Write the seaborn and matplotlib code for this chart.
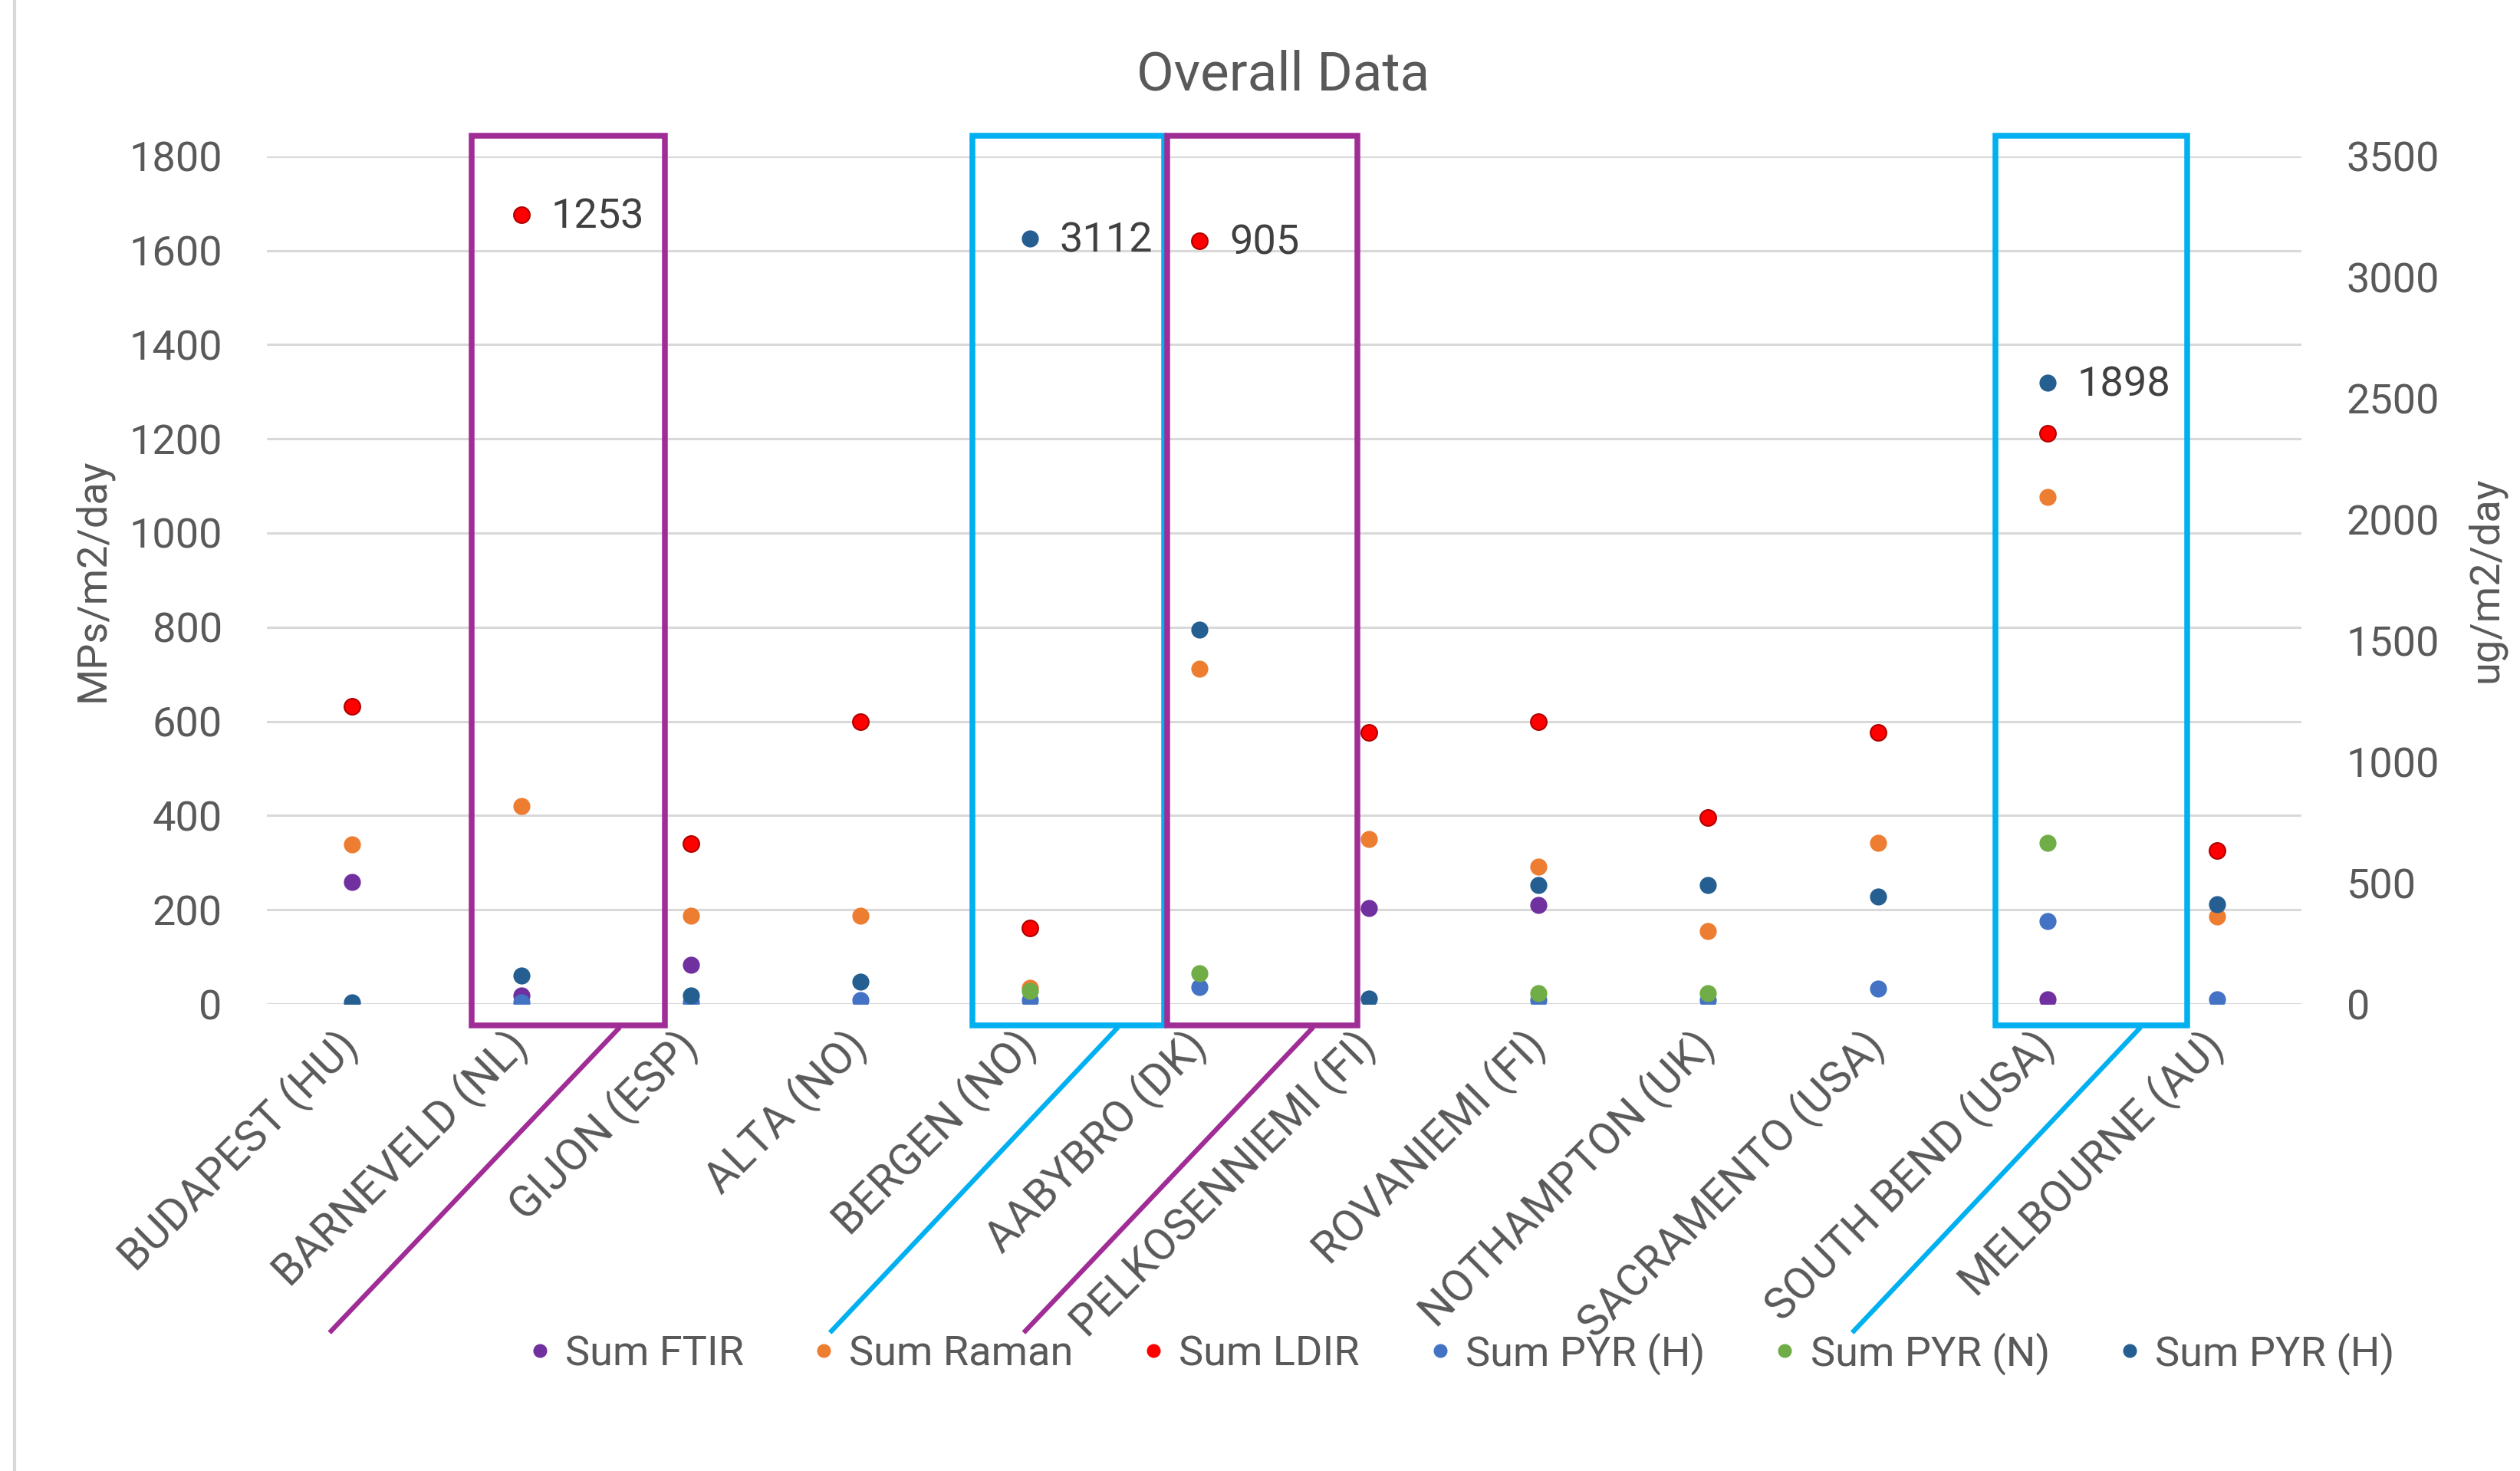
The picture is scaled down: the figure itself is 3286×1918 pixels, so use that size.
import numpy as np
import pandas as pd
import matplotlib.pyplot as plt
import seaborn as sns
from matplotlib.lines import Line2D
from matplotlib.patches import Rectangle

nan = np.nan

cities = ['BUDAPEST (HU)', 'BARNEVELD (NL)', 'GIJON (ESP)', 'ALTA (NO)', 'BERGEN (NO)',
          'AABYBRO (DK)', 'PELKOSENNIEMI (FI)', 'ROVANIEMI (FI)', 'NOTHAMPTON (UK)',
          'SACRAMENTO (USA)', 'SOUTH BEND (USA)', 'MELBOURNE (AU)']

# MPs/m2/day -> left axis
sum_ftir = [259, 18, 83, nan, nan, nan, 204, 210, nan, nan, 10, nan]
sum_raman = [338, 420, 187, 187, 35, 711, 350, 291, 155, 342, 1076, 186]
sum_ldir = [632, 1675, 340, 600, 162, 1620, 577, 600, 396, 577, 1212, 326]

# ug/m2/day -> right axis
sum_pyr_h = [nan, 7, 7, 16, 16, 70, nan, 16, 16, 63, 341, 19]
sum_pyr_n = [nan, nan, nan, nan, 53, 128, nan, 46, 46, nan, 666, nan]
sum_pyr_h2 = [7, 118, 36, 92, 3160, 1545, 21, 491, 491, 443, 2565, 412]

# real values written next to the off-scale points
label_cities = ['BARNEVELD (NL)', 'BERGEN (NO)', 'AABYBRO (DK)', 'SOUTH BEND (USA)']
label_series = ['Sum LDIR', 'Sum PYR (H) ', 'Sum LDIR', 'Sum PYR (H) ']
label_texts = ['1253', '3112', '905', '1898']

left_series = [('Sum FTIR', sum_ftir, '#7030A0'),
               ('Sum Raman', sum_raman, '#ED7D31'),
               ('Sum LDIR', sum_ldir, '#FF0000')]
right_series = [('Sum PYR (H)', sum_pyr_h, '#4472C4'),
                ('Sum PYR (N)', sum_pyr_n, '#70AD47'),
                ('Sum PYR (H) ', sum_pyr_h2, '#255E91')]

sns.set_theme(style='white')
plt.rcParams['font.family'] = ['Roboto', 'DejaVu Sans']
txt = '#595959'

fig = plt.figure(figsize=(32.87, 19.18), dpi=100)
ax = fig.add_axes([0.1059, 0.3175, 0.8072, 0.5763])
ax2 = ax.twinx()


def draw(axis, series):
    for name, vals, col in series:
        df = pd.DataFrame({'city': cities, 'value': vals}).dropna()
        ldir = name == 'Sum LDIR'
        sns.stripplot(data=df, x='city', y='value', order=cities, jitter=False,
                      color=col, size=15 if ldir else 16,
                      linewidth=1.5 if ldir else 0,
                      edgecolor='#B00000' if ldir else col, ax=axis, zorder=3)


draw(ax, left_series)
draw(ax2, right_series)

ax.set_xlim(-0.5, 11.5)
ax.set_ylim(0, 1800)
ax2.set_ylim(0, 3500)
ax.set_yticks(range(0, 1801, 200))
ax2.set_yticks(range(0, 3501, 500))
for a in (ax, ax2):
    a.set_xlabel('')
    a.set_ylabel('')
    for s in a.spines.values():
        s.set_visible(False)
ax.grid(axis='y', color='#D9D9D9', linewidth=2.2)
ax.grid(axis='x', visible=False)
ax2.grid(False)
ax.set_axisbelow(True)

ax.tick_params(axis='y', length=0, pad=42, labelsize=39, labelcolor=txt)
ax2.tick_params(axis='y', length=0, pad=42, labelsize=39, labelcolor=txt)
ax.tick_params(axis='x', length=0, pad=33, labelsize=41, labelcolor=txt)
ax.set_xticks(range(len(cities)))
ax.set_xticklabels(cities, rotation=45, ha='right', va='center', rotation_mode='anchor')

# labels for the outliers
series_lookup = {n: (v, ax) for n, v, c in left_series}
series_lookup.update({n: (v, ax2) for n, v, c in right_series})
for c, s, t in zip(label_cities, label_series, label_texts):
    vals, a = series_lookup[s]
    i = cities.index(c)
    a.annotate(t, (i, vals[i]), xytext=(28, -2), textcoords='offset points',
               ha='left', va='center', fontsize=39, color='#404040', zorder=5)

# highlight boxes and their leader lines
purple = '#A02C96'
cyan = '#00B0F0'
boxes = [(0.708, 1.848, purple, 1.581, -0.131),
         (3.660, 4.793, cyan, 4.519, 2.820),
         (4.811, 5.933, purple, 5.670, 3.963),
         (9.694, 10.824, cyan, 10.550, 8.849)]
for x0, x1, col, ls, le in boxes:
    ax.add_patch(Rectangle((x0, -45.6), x1 - x0, 1889.2, fill=False, edgecolor=col,
                           linewidth=5.4, clip_on=False, zorder=6))
    ax.plot([ls, le], [-49.5, -698], color=col, linewidth=4.5, clip_on=False,
            zorder=6, solid_capstyle='butt')

fig.text(0.509, 0.949, 'Overall Data', ha='center', va='center', fontsize=51, color=txt)
fig.text(0.0368, 0.6058, 'MPs/m2/day', rotation=90, ha='center', va='center',
         fontsize=39, color=txt)
fig.text(0.9863, 0.6058, 'ug/m2/day', rotation=90, ha='center', va='center',
         fontsize=39, color=txt)

handles = [Line2D([], [], marker='o', linestyle='none', markerfacecolor=c,
                  markeredgecolor=c, markersize=12, label=n.strip())
           for n, v, c in left_series + right_series]
fig.legend(handles=handles, loc='center', bbox_to_anchor=(0.580, 0.0798), ncol=6,
           frameon=False, fontsize=39, labelcolor=txt, handlelength=0.5,
           handletextpad=0.36, columnspacing=1.68)

fig.add_artist(Line2D([19 / 3287] * 2, [0, 1], transform=fig.transFigure,
                      color='#D9D9D9', linewidth=3))

plt.savefig('out.png', dpi=100)
